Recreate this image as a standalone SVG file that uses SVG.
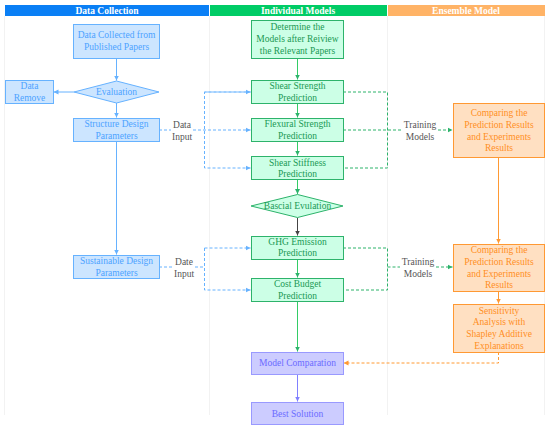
<svg xmlns="http://www.w3.org/2000/svg" width="550" height="429" viewBox="0 0 550 429">
<defs>
<style>
text{font-family:"Liberation Serif","DejaVu Serif",serif;font-size:9.5px;text-anchor:middle}
.hd{fill:#fff;font-weight:bold}
.b rect,.b polygon{fill:#cce5ff;stroke:#66b2ff;stroke-width:1}
.b text{fill:#4da3ff}
.g rect,.g polygon{fill:#ccffe6;stroke:#2db36b;stroke-width:1}
.g text{fill:#1a9954}
.o rect{fill:#ffe0c2;stroke:#ff9933;stroke-width:1}
.o text{fill:#ff8f1f}
.p rect{fill:#ccccff;stroke:#9999ff;stroke-width:1}
.p text{fill:#6b6bff}
.lbl{fill:#555}
.sep{stroke:#f2f2f2;stroke-width:1}
.c{fill:none;stroke-width:1}
.bs{stroke:#66b2ff}
.bd{stroke:#66b2ff;stroke-dasharray:3,2}
.gs{stroke:#33cc66}
.gd{stroke:#2db36b;stroke-dasharray:3,2}
.ks{stroke:#444}
.os{stroke:#ff9933}
.od{stroke:#ff9933;stroke-dasharray:3,2}
.ps{stroke:#8080ff}
</style>
<marker id="ab" markerWidth="6" markerHeight="6" refX="5" refY="3" orient="auto" markerUnits="userSpaceOnUse"><path d="M0,0.5 L5,3 L0,5.5 Z" fill="#66b2ff" stroke="none"/></marker>
<marker id="ag" markerWidth="6" markerHeight="6" refX="5" refY="3" orient="auto" markerUnits="userSpaceOnUse"><path d="M0,0.5 L5,3 L0,5.5 Z" fill="#2db36b" stroke="none"/></marker>
<marker id="ak" markerWidth="6" markerHeight="6" refX="5" refY="3" orient="auto" markerUnits="userSpaceOnUse"><path d="M0,0.5 L5,3 L0,5.5 Z" fill="#444" stroke="none"/></marker>
<marker id="ao" markerWidth="6" markerHeight="6" refX="5" refY="3" orient="auto" markerUnits="userSpaceOnUse"><path d="M0,0.5 L5,3 L0,5.5 Z" fill="#ff9933" stroke="none"/></marker>
<marker id="ap" markerWidth="6" markerHeight="6" refX="5" refY="3" orient="auto" markerUnits="userSpaceOnUse"><path d="M0,0.5 L5,3 L0,5.5 Z" fill="#8080ff" stroke="none"/></marker>
</defs>
<rect x="0" y="0" width="550" height="429" fill="#fff"/>
<g id="separators">
<line class="sep" x1="4.5" y1="16" x2="4.5" y2="415"/>
<line class="sep" x1="209.5" y1="16" x2="209.5" y2="415"/>
<line class="sep" x1="387.5" y1="16" x2="387.5" y2="415"/>
<line class="sep" x1="544.5" y1="16" x2="544.5" y2="415"/>
</g>
<g id="headers">
<rect x="5" y="5" width="204" height="11" fill="#0a7ff5"/>
<text class="hd" x="107" y="14">Data Collection</text>
<rect x="210" y="5" width="177" height="11" fill="#00cc66"/>
<text class="hd" x="298" y="14">Individual Models</text>
<rect x="388" y="5" width="157" height="11" fill="#ffb366"/>
<text class="hd" x="466" y="14">Ensemble Model</text>
</g>
<g id="connectors">
<path class="c bs" d="M116.5,58 V80.5" marker-end="url(#ab)"/>
<path class="c bs" d="M74,92 H53.5" marker-end="url(#ab)"/>
<path class="c bs" d="M116.5,103 V117.5" marker-end="url(#ab)"/>
<path class="c bs" d="M116.5,142 V254.5" marker-end="url(#ab)"/>
<path class="c bd" d="M159,130 H171"/>
<path class="c bd" d="M193,130 H250.5" marker-end="url(#ab)"/>
<path class="c bd" d="M250.5,92 H204.5 V168 H250.5" marker-end="url(#ab)"/>
<path class="c bd" d="M204.5,92 H250.5" marker-end="url(#ab)"/>
<path class="c bd" d="M159,267 H174"/>
<path class="c bd" d="M195,267 H204.5"/>
<path class="c bd" d="M204.5,248 V290 H250.5" marker-end="url(#ab)"/>
<path class="c bd" d="M204.5,248 H250.5" marker-end="url(#ab)"/>
<path class="c gs" d="M297.5,58 V79.5" marker-end="url(#ag)"/>
<path class="c gs" d="M297.5,103 V117.5" marker-end="url(#ag)"/>
<path class="c gs" d="M297.5,142 V155.5" marker-end="url(#ag)"/>
<path class="c gs" d="M297.5,179 V194" marker-end="url(#ag)"/>
<path class="c ks" d="M297.5,218 V235.5" marker-end="url(#ak)"/>
<path class="c gs" d="M297.5,259 V277.5" marker-end="url(#ag)"/>
<path class="c gs" d="M297.5,301 V351.5" marker-end="url(#ag)"/>
<path class="c ps" d="M297.5,374 V401.5" marker-end="url(#ap)"/>
<path class="c gd" d="M343,92 H387.5 V168 H343"/>
<path class="c gd" d="M343,130 H387.5 H402"/>
<path class="c gd" d="M438,130 H452.5" marker-end="url(#ag)"/>
<path class="c gd" d="M343,248 H387.5 V290 H343"/>
<path class="c gd" d="M387.5,267 H400"/>
<path class="c gd" d="M436,267 H452.5" marker-end="url(#ag)"/>
<path class="c os" d="M498.5,157 V243.5" marker-end="url(#ao)"/>
<path class="c os" d="M498.5,292 V303.5" marker-end="url(#ao)"/>
<path class="c od" d="M498.5,352 V363 H343.5" marker-end="url(#ao)"/>
<text class="lbl" x="182" y="128">Data</text>
<text class="lbl" x="182" y="140">Input</text>
<text class="lbl" x="184" y="265">Date</text>
<text class="lbl" x="184" y="277">Input</text>
<text class="lbl" x="420" y="128">Training</text>
<text class="lbl" x="420" y="140">Models</text>
<text class="lbl" x="418" y="265">Training</text>
<text class="lbl" x="418" y="277">Models</text>
</g>
<g id="data-collected" class="b">
<rect x="73.5" y="24.5" width="86" height="34"/>
<text x="116.5" y="38">Data Collected from</text>
<text x="116.5" y="50">Published Papers</text>
</g>
<g id="evaluation" class="b">
<polygon points="74,92 116.5,81 159,92 116.5,103"/>
<text x="116.5" y="95">Evaluation</text>
</g>
<g id="data-remove" class="b">
<rect x="5.5" y="80.5" width="48" height="23"/>
<text x="29.5" y="89">Data</text>
<text x="29.5" y="101">Remove</text>
</g>
<g id="structure-design" class="b">
<rect x="73.5" y="118.5" width="86" height="23"/>
<text x="116.5" y="127">Structure Design</text>
<text x="116.5" y="139">Parameters</text>
</g>
<g id="sustainable-design" class="b">
<rect x="73.5" y="255.5" width="86" height="23"/>
<text x="116.5" y="264">Sustainable Design</text>
<text x="116.5" y="276">Parameters</text>
</g>
<g id="determine-models" class="g">
<rect x="251.5" y="20.5" width="92" height="38"/>
<text x="297.5" y="30">Determine the</text>
<text x="297.5" y="42">Models after Reiview</text>
<text x="297.5" y="54">the Relevant Papers</text>
</g>
<g id="shear-strength" class="g">
<rect x="251.5" y="80.5" width="92" height="23"/>
<text x="297.5" y="89">Shear Strength</text>
<text x="297.5" y="101">Prediction</text>
</g>
<g id="flexural-strength" class="g">
<rect x="251.5" y="118.5" width="92" height="23"/>
<text x="297.5" y="127">Flexural Strength</text>
<text x="297.5" y="139">Prediction</text>
</g>
<g id="shear-stiffness" class="g">
<rect x="251.5" y="156.5" width="92" height="23"/>
<text x="297.5" y="166">Shear Stiffness</text>
<text x="297.5" y="177">Prediction</text>
</g>
<g id="bascial-evulation" class="g">
<polygon points="251,206 297.5,194.5 343,206 297.5,217.5"/>
<text x="297.5" y="209">Bascial Evulation</text>
</g>
<g id="ghg-emission" class="g">
<rect x="251.5" y="236.5" width="92" height="23"/>
<text x="297.5" y="245">GHG Emission</text>
<text x="297.5" y="256">Prediction</text>
</g>
<g id="cost-budget" class="g">
<rect x="251.5" y="278.5" width="92" height="23"/>
<text x="297.5" y="287">Cost Budget</text>
<text x="297.5" y="299">Prediction</text>
</g>
<g id="model-comparation" class="p">
<rect x="251.5" y="352.5" width="92" height="22"/>
<text x="297.5" y="366">Model Comparation</text>
</g>
<g id="best-solution" class="p">
<rect x="251.5" y="402.5" width="92" height="22"/>
<text x="297.5" y="417">Best Solution</text>
</g>
<g id="comparing-1" class="o">
<rect x="453.5" y="103.5" width="91" height="54"/>
<text x="499" y="116">Comparing the</text>
<text x="499" y="128">Prediction Results</text>
<text x="499" y="140">and Experiments</text>
<text x="499" y="151">Results</text>
</g>
<g id="comparing-2" class="o">
<rect x="453.5" y="244.5" width="91" height="47"/>
<text x="499" y="253">Comparing the</text>
<text x="499" y="265">Prediction Results</text>
<text x="499" y="277">and Experiments</text>
<text x="499" y="288">Results</text>
</g>
<g id="sensitivity" class="o">
<rect x="453.5" y="304.5" width="91" height="48"/>
<text x="499" y="314">Sensitivity</text>
<text x="499" y="325">Analysis with</text>
<text x="499" y="337">Shapley Additive</text>
<text x="499" y="349">Explanations</text>
</g>
</svg>
